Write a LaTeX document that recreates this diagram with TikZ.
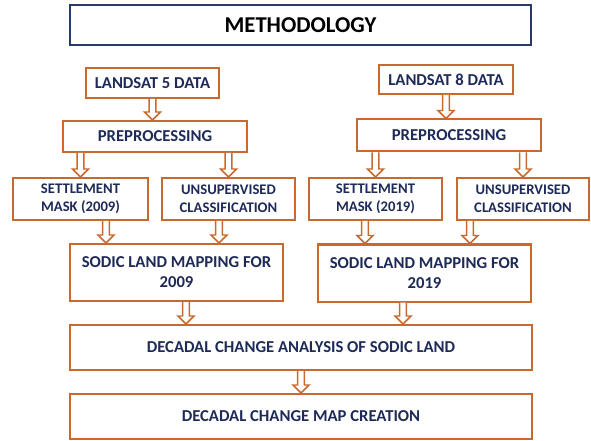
\documentclass[tikz,border=0pt]{standalone}
\usepackage{fontspec}
\setmainfont{Carlito}
\usetikzlibrary{positioning}
\usetikzlibrary{calc}
\definecolor{boxorange}{RGB}{200,105,45}
\definecolor{titleblue}{RGB}{40,58,105}
\definecolor{textnavy}{RGB}{30,42,88}
\tikzset{
	% boxes
	stagebox/.style={draw=boxorange,line width=1.5pt,fill=white,align=center,
		text=textnavy,font=\fontsize{12.5}{15}\selectfont\bfseries,inner sep=2pt},
	smallbox/.style={stagebox,font=\fontsize{11}{13.2}\selectfont\bfseries},
	titlebox/.style={draw=titleblue,line width=1.5pt,align=center,
		font=\fontsize{17}{20}\selectfont\bfseries},
	% hollow down arrows
	blockarrow/.style={draw=boxorange,line width=1.1pt,fill=white,line join=miter},
}
% hollow arrow from a point straight down to the top of a box
\newcommand{\blockarrow}[2]{%
	\draw[blockarrow] let \p1=#1, \p2=(#2.north) in
		(\x1-2.6pt,\y1) -- (\x1-2.6pt,\y2+6pt) -- (\x1-6pt,\y2+6pt) -- (\x1,\y2)
		-- (\x1+6pt,\y2+6pt) -- (\x1+2.6pt,\y2+6pt) -- (\x1+2.6pt,\y1);
}

\begin{document}
\begin{tikzpicture}[x=0.75pt,y=-0.75pt]
	\useasboundingbox (0,0) rectangle (591,441);
	
	\node[titlebox,minimum width=345.75pt,minimum height=30pt] (meth) at (300.5,25) {METHODOLOGY};
	
	% landsat 5 side
	\node[stagebox,minimum width=99.75pt,minimum height=22.5pt] (l5) at (152.5,83) {LANDSAT 5 DATA};
	\node[stagebox,minimum width=138pt,minimum height=23.25pt] (lpre) at (155,136.5) {PREPROCESSING};
	\node[smallbox,minimum width=101.25pt,minimum height=31.5pt] (lsm) at (80.5,199) {SETTLEMENT\\MASK (2009)};
	\node[smallbox,minimum width=99.75pt,minimum height=31.5pt] (lun) at (228.5,199) {UNSUPERVISED\\CLASSIFICATION};
	\node[stagebox,minimum width=159.75pt,minimum height=42.75pt] (lmap) at (176.5,272.5) {SODIC LAND MAPPING FOR\\2009};
	
	% landsat 8 side
	\node[stagebox,minimum width=100.5pt,minimum height=21.75pt] (r8) at (446,79.5) {LANDSAT 8 DATA};
	\node[stagebox,minimum width=138pt,minimum height=24pt] (rpre) at (449,135.5) {PREPROCESSING};
	\node[smallbox,minimum width=99.75pt,minimum height=31.5pt] (rsm) at (375.5,199) {SETTLEMENT\\MASK (2019)};
	\node[smallbox,minimum width=99pt,minimum height=31.5pt] (run) at (523,199) {UNSUPERVISED\\CLASSIFICATION};
	\node[stagebox,minimum width=159.75pt,minimum height=42.75pt] (rmap) at (424.5,273) {SODIC LAND MAPPING FOR\\2019};
	
	% common part
	\node[stagebox,minimum width=346.5pt,minimum height=33.75pt] (ana) at (301,347.5) {DECADAL CHANGE ANALYSIS OF SODIC LAND};
	\node[stagebox,minimum width=346.5pt,minimum height=33.75pt] (mapc) at (301,416.5) {DECADAL CHANGE MAP CREATION};
	
	\blockarrow{(l5.south)}{lpre}
	\blockarrow{(lpre.south -| lsm.south)}{lsm}
	\blockarrow{(lpre.south -| lun.south)}{lun}
	\blockarrow{($(lsm.south)+(25.5,0)$)}{lmap}
	\blockarrow{($(lun.south)+(-9.5,0)$)}{lmap}
	
	\blockarrow{(r8.south)}{rpre}
	\blockarrow{(rpre.south -| rsm.south)}{rsm}
	\blockarrow{(rpre.south -| run.south)}{run}
	\blockarrow{($(rsm.south)+(-10.5,0)$)}{rmap}
	\blockarrow{($(run.south)+(-53,0)$)}{rmap}
	
	\blockarrow{($(lmap.south)+(9.5,0)$)}{ana}
	\blockarrow{($(rmap.south)+(-21.5,0)$)}{ana}
	\blockarrow{(ana.south)}{mapc}
	
\end{tikzpicture}
\end{document}
